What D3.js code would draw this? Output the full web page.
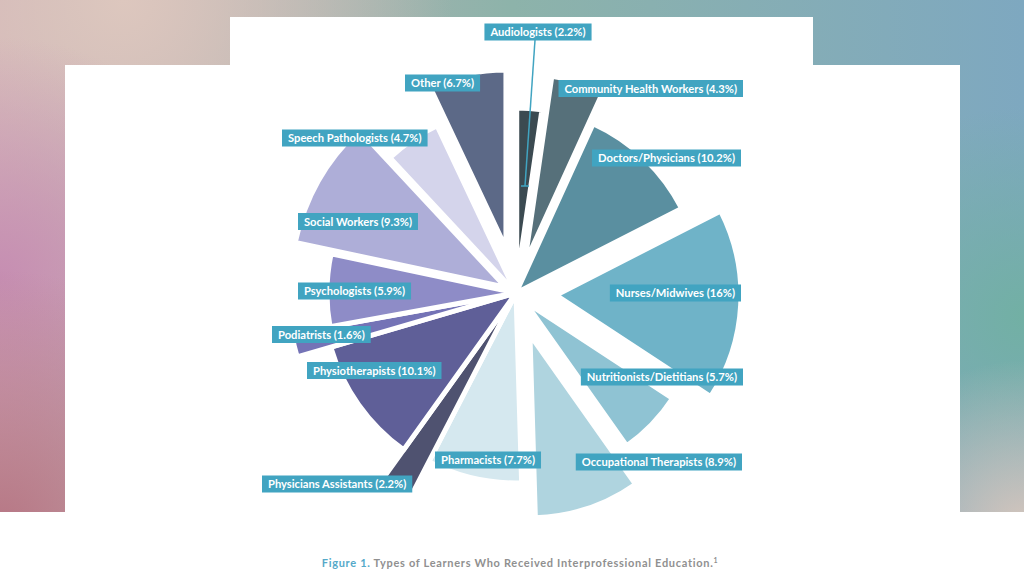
<!DOCTYPE html>
<html>
<head>
<meta charset="utf-8">
<script src="https://cdn.jsdelivr.net/npm/d3@7"></script>
<style>
  body {
    margin: 0;
    width: 1024px;
    height: 576px;
    overflow: hidden;
    background:
      radial-gradient(circle at 0% 92%, rgba(182,118,132,1) 0, rgba(182,118,132,0) 260px),
      radial-gradient(circle at 0% 48%, rgba(198,142,178,1) 0, rgba(198,142,178,0) 240px),
      radial-gradient(circle at 12% 0%, rgba(221,199,190,1) 0, rgba(221,199,190,0) 330px),
      radial-gradient(circle at 100% 92%, rgba(214,198,188,1) 0, rgba(214,198,188,0) 170px),
      radial-gradient(circle at 100% 55%, rgba(114,176,164,1) 0, rgba(114,176,164,0) 210px),
      linear-gradient(90deg, #cfb0b6 0%, #8db3aa 50%, #7ea8c0 100%);
  }
  svg { display: block; }
</style>
</head>
<body>
<script>
const categories = ['Audiologists', 'Community Health Workers', 'Doctors/Physicians',
  'Nurses/Midwives', 'Nutritionists/Dietitians', 'Occupational Therapists', 'Pharmacists',
  'Physicians Assistants', 'Physiotherapists', 'Podiatrists', 'Psychologists',
  'Social Workers', 'Speech Pathologists', 'Other'];
const percents = [2.2, 4.3, 10.2, 16, 5.7, 8.9, 7.7, 2.2, 10.1, 1.6, 5.9, 9.3, 4.7, 6.7];
const caption = 'Types of Learners Who Received Interprofessional Education.';

// styling / layout of each slice (colour, outer radius, explode distance)
const colors = ['#3b4a51', '#56707a', '#5a8fa0', '#6fb3c8', '#8fc3d3', '#afd4df', '#d5e8ef',
  '#4f5270', '#5f5f98', '#7473b6', '#8e8cc7', '#aeaed8', '#d4d4eb', '#5c6987'];
const radius = [175, 190, 186, 185, 177, 183, 190, 228, 193, 228, 189, 215, 185, 178];
const explode = [10, 30, 0, 40, 12, 44, 0, 0, 0, 0, 0, 12, 0, 46];
// label boxes: x, y centre, anchor
const labelPos = [[538, 32, 'middle'], [743, 88.5, 'end'], [741, 158, 'end'],
  [741, 293, 'end'], [743, 377, 'end'], [742, 462, 'end'], [435, 460, 'start'],
  [262, 484, 'start'], [307, 370.5, 'start'], [272, 334.5, 'start'], [298, 291, 'start'],
  [298, 221.5, 'start'], [282, 138, 'start'], [405, 83, 'start']];

const w = 1024;
const h = 576;
const cx = 516;
const cy = 293;
const teal = '#41a4c1';

const rows = categories.map((c, i) => ({ name: c, value: percents[i], i: i }));

const svg = d3.select('body')
  .append('svg')
  .attr('width', w)
  .attr('height', h);

// white panels
svg.append('rect').attr('x', 230).attr('y', 17).attr('width', 583).attr('height', 60).attr('fill', '#fff');
svg.append('rect').attr('x', 65).attr('y', 65).attr('width', 895).attr('height', 460).attr('fill', '#fff');
svg.append('rect').attr('x', 0).attr('y', 512).attr('width', w).attr('height', 64).attr('fill', '#fff');

const pie = d3.pie().sort(null).value((d) => d.value);
const arcs = pie(rows);

const g = svg.append('g').attr('transform', `translate(${cx},${cy})`);

g.selectAll('path')
  .data(arcs)
  .enter()
  .append('path')
  .attr('transform', (d) => {
    const m = (d.startAngle + d.endAngle) / 2;
    const o = explode[d.index];
    return `translate(${o * Math.sin(m)},${-o * Math.cos(m)})`;
  })
  .attr('d', (d) => d3.arc().innerRadius(0).outerRadius(radius[d.index])(d))
  .attr('fill', (d) => colors[d.index])
  .attr('stroke', '#fff')
  .attr('stroke-width', 5)
  .attr('stroke-linejoin', 'round');

// leader line for Audiologists
svg.append('line')
  .attr('x1', 535).attr('y1', 40).attr('x2', 525).attr('y2', 186)
  .attr('stroke', teal).attr('stroke-width', 1.5);
svg.append('line')
  .attr('x1', 521).attr('y1', 186).attr('x2', 529).attr('y2', 186)
  .attr('stroke', teal).attr('stroke-width', 1.5);

// labels
const labels = svg.append('g').selectAll('g')
  .data(rows)
  .enter()
  .append('g');

labels.each(function (d) {
  const [x, y, anchor] = labelPos[d.i];
  const grp = d3.select(this);
  const rect = grp.append('rect').attr('fill', teal);
  const txt = grp.append('text')
    .attr('x', x)
    .attr('y', y)
    .attr('dy', '0.36em')
    .attr('fill', '#fff')
    .attr('font-family', 'Lato, sans-serif')
    .attr('font-weight', 700)
    .attr('font-size', '11.2px')
    .text(`${d.name} (${d.value}%)`);
  const tw = txt.node().getComputedTextLength();
  const pad = 6;
  let left;
  if (anchor === 'start') left = x;
  else if (anchor === 'end') left = x - tw - 2 * pad;
  else left = x - tw / 2 - pad;
  txt.attr('x', left + pad);
  rect.attr('x', left).attr('y', y - 8.5).attr('width', tw + 2 * pad).attr('height', 17);
});

// caption
const cap = svg.append('text')
  .attr('x', 520)
  .attr('y', 567)
  .attr('text-anchor', 'middle')
  .attr('font-family', 'Lato, sans-serif')
  .attr('font-weight', 700)
  .attr('font-size', '11px')
  .attr('letter-spacing', '0.7px');
cap.append('tspan').attr('fill', '#55a9c9').text('Figure 1. ');
cap.append('tspan').attr('fill', '#909090').text(caption);
cap.append('tspan').attr('fill', '#909090').attr('font-size', '7px').attr('dy', '-4').text('1');
</script>
</body>
</html>
